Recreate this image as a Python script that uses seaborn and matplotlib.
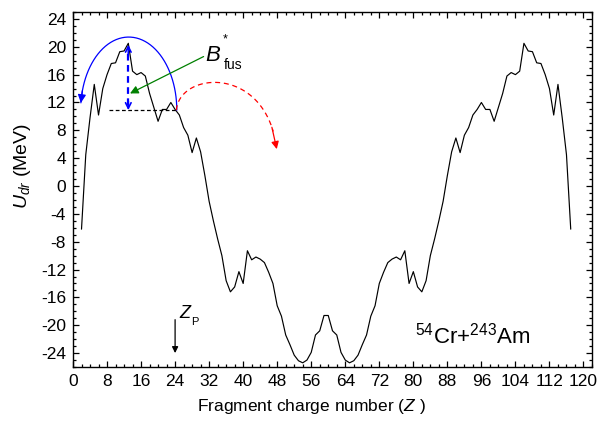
import numpy as np
import pandas as pd
import seaborn as sns
import matplotlib
matplotlib.use("Agg")
import matplotlib.pyplot as plt
from matplotlib.ticker import MultipleLocator

# Driving potential U_dr versus fragment charge number Z for 54Cr+243Am
charge_z = list(range(2, 118))
u_dr = [
    -6.2, 4.5, 9.8, 14.6, 10.2, 14.0, 16.0, 17.6, 17.7, 19.3,
    19.4, 20.5, 16.5, 16.0, 16.3, 15.8, 13.3, 11.3, 9.3, 11.0,
    11.0, 12.0, 11.0, 10.2, 8.4, 7.3, 4.8, 6.9, 4.9, 1.5,
    -2.2, -5.0, -7.6, -10.0, -13.6, -15.2, -14.5, -12.3, -14.0, -9.3,
    -10.6, -10.2, -10.5, -11.0, -12.4, -14.0, -17.2, -18.7, -21.4, -22.8,
    -24.3, -25.1, -25.4, -25.0, -23.9, -21.4, -20.8, -18.6,
    -18.6, -20.8, -21.4, -23.9, -25.0, -25.4, -25.1, -24.3, -22.8, -21.4,
    -18.7, -17.2, -14.0, -12.4, -11.0, -10.5, -10.2, -10.6, -9.3, -14.0,
    -12.3, -14.5, -15.2, -13.6, -10.0, -7.6, -5.0, -2.2, 1.5, 4.9,
    6.9, 4.8, 7.3, 8.4, 10.2, 11.0, 12.0, 11.0, 11.0, 9.3,
    11.3, 13.3, 15.8, 16.3, 16.0, 16.5, 20.5, 19.4, 19.3, 17.7,
    17.6, 16.0, 14.0, 10.2, 14.6, 9.8, 4.5, -6.2,
]
x_ticks = list(range(0, 121, 8))
y_ticks = list(range(-24, 25, 4))

# Key levels used by the annotations
z_projectile = 24
z_peak = 13
u_peak = 20.5
u_ridge = 10.9

df = pd.DataFrame({"Z": charge_z, "U": u_dr})

sns.set_theme(style="ticks")
plt.rcParams["font.family"] = ["Liberation Sans", "DejaVu Sans"]
plt.rcParams["mathtext.fontset"] = "custom"
plt.rcParams["mathtext.rm"] = "Liberation Sans"
plt.rcParams["mathtext.it"] = "Liberation Sans:italic"
plt.rcParams["axes.unicode_minus"] = False

fig = plt.figure(figsize=(6.07, 4.21), dpi=100)
ax = fig.add_axes([73 / 607, 1 - 367 / 421, (592 - 73) / 607, (367 - 12) / 421])

sns.lineplot(data=df, x="Z", y="U", color="black", lw=0.85, ax=ax)

ax.set_xlim(0, 122)
ax.set_ylim(-26, 25)
ax.set_xticks(x_ticks)
ax.set_yticks(y_ticks)
ax.xaxis.set_minor_locator(MultipleLocator(2))
ax.yaxis.set_minor_locator(MultipleLocator(1))
ax.tick_params(which="both", direction="in", top=True, right=True,
               color="black", width=0.9, labelsize=12.5, labelcolor="black")
ax.tick_params(which="major", length=4.3, pad=5)
ax.tick_params(which="minor", length=2.4)
for sp in ax.spines.values():
    sp.set_visible(True)
    sp.set_color("black")
    sp.set_linewidth(1.0)

ax.set_xlabel("Fragment charge number ($\\mathit{Z}$ )", fontsize=12.5, color="black")
ax.set_ylabel("$\\mathit{U}_{\\mathit{dr}}$ (MeV)", fontsize=14, color="black")
ax.xaxis.set_label_coords(0.46, -0.085)
ax.yaxis.set_label_coords(-0.077, 0.565)

# Blue solid arc with arrowhead on the left
t = np.linspace(0, np.pi - 0.1, 200)
arc_z = 13.1 + 11.3 * np.cos(t)
arc_u = u_ridge + 10.5 * np.sin(t)
ax.plot(arc_z, arc_u, color="blue", lw=0.9)
ax.annotate("", xy=(arc_z[-1], arc_u[-1]), xytext=(arc_z[-12], arc_u[-12]),
            arrowprops=dict(arrowstyle="-|>", color="blue", lw=0.9,
                            mutation_scale=12, shrinkA=0, shrinkB=0))

# Red dashed arc (cubic Bezier) with arrowhead
p0 = np.array([24.3, 10.9])
p1 = np.array([25.0, 16.5])
p2 = np.array([45.5, 17.5])
p3 = np.array([47.9, 5.3])
s = np.linspace(0, 1, 200)[:, None]
bez = ((1 - s) ** 3) * p0 + 3 * ((1 - s) ** 2) * s * p1 + 3 * (1 - s) * s ** 2 * p2 + s ** 3 * p3
ax.plot(bez[:-15, 0], bez[:-15, 1], color="red", lw=0.9, ls=(0, (4, 3)))
ax.annotate("", xy=tuple(bez[-1]), xytext=tuple(bez[-20]),
            arrowprops=dict(arrowstyle="-|>", color="red", lw=0.9,
                            mutation_scale=11, shrinkA=0, shrinkB=0))

# Ridge level and barrier height arrow
ax.plot([8.5, z_projectile + 0.3], [u_ridge, u_ridge], color="black", lw=0.9, ls=(0, (3, 2)))
ax.plot([z_peak, z_peak], [u_ridge + 0.8, u_peak - 0.8], color="blue", lw=1.6, ls=(0, (3, 2)))
ax.annotate("", xy=(z_peak, u_peak - 0.2), xytext=(z_peak, u_peak - 1.5),
            arrowprops=dict(arrowstyle="->", color="blue", lw=1.2,
                            mutation_scale=10, shrinkA=0, shrinkB=0))
ax.annotate("", xy=(z_peak, u_ridge), xytext=(z_peak, u_ridge + 1.3),
            arrowprops=dict(arrowstyle="->", color="blue", lw=1.2,
                            mutation_scale=10, shrinkA=0, shrinkB=0))

# B*_fus label with green pointer
ax.annotate("", xy=(13.4, 13.3), xytext=(30.7, 18.6),
            arrowprops=dict(arrowstyle="-|>", color="#008000", lw=0.9,
                            mutation_scale=12, shrinkA=0, shrinkB=0))
ax.text(31.1, 18.0, "B", fontsize=16, style="italic", color="black")
ax.text(35.3, 20.6, "*", fontsize=9, color="black")
ax.text(35.4, 16.8, "fus", fontsize=10, color="black")

# Projectile charge marker
ax.annotate("", xy=(z_projectile, -24.0), xytext=(z_projectile, -19.2),
            arrowprops=dict(arrowstyle="-|>", color="black", lw=0.9,
                            mutation_scale=9, shrinkA=0, shrinkB=0))
ax.text(24.9, -19.0, "Z", fontsize=13, style="italic", color="black")
ax.text(27.8, -20.0, "P", fontsize=8, color="black")

ax.text(80.5, -22.6, "$^{54}$Cr+$^{243}$Am", fontsize=16, color="black")

fig.savefig("out.png", dpi=100, facecolor="white")
